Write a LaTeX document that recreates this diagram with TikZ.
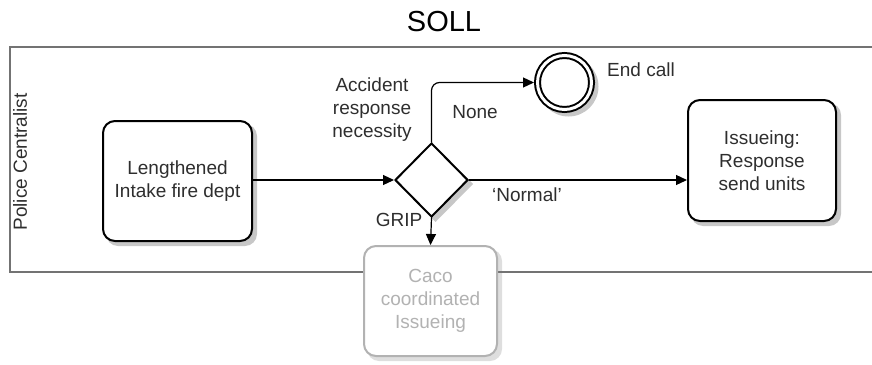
\documentclass[tikz,border=0pt]{standalone}
\usepackage{fontspec}
\setmainfont{Liberation Sans}
\usetikzlibrary{shapes.geometric,arrows.meta,backgrounds}
\begin{document}
\begin{tikzpicture}[x=1pt,y=-1pt,
  every node/.style={font=\fontsize{19}{23}\selectfont, text=black!82},
  lane/.style={draw=black!55, line width=1.8pt},
  task/.style={draw=black, line width=2pt, rounded corners=12pt, fill=white,
    align=center, inner sep=0pt},
  faded/.style={draw=black!30, text=black!30, line width=2pt, rounded corners=12pt,
    fill=white, align=center, inner sep=0pt},
  gateway/.style={diamond, draw=black, line width=2pt, fill=white, inner sep=0pt},
  endevent/.style={circle, draw=black, fill=white, line width=2pt, double=white,
    double distance=3pt, inner sep=0pt, minimum size=54pt, outer sep=3.5pt},
  flow/.style={draw=black, line width=1.2pt, -{Triangle[length=11pt,width=10pt]}},
  lbl/.style={align=center, inner sep=0pt},
  shadowfill/.style={fill=black!#1, draw=none}
]
\useasboundingbox (0,0) rectangle (872,364);

% title
\node[font=\fontsize{29}{34}\selectfont, text=black] (title) at (444,22) {SOLL};

% pool lane
\draw[lane] (885,47) -- (10,47) -- (10,272) -- (885,272);
\node[rotate=90, lbl] (lanename) at (20,162) {Police Centralist};

% activities and events
\node[task, minimum width=149pt, minimum height=120pt] (intake) at (177.5,181)
  {Lengthened\\Intake fire dept};
\node[gateway, minimum width=73pt, minimum height=74pt] (gw) at (431.5,180) {};
\node[endevent] (endcall) at (564.5,82.5) {};
\node[task, minimum width=148pt, minimum height=121pt] (issue) at (762,160.5)
  {Issueing:\\Response\\send units};
\node[faded, minimum width=133pt, minimum height=110pt] (caco) at (430.5,301)
  {Caco\\coordinated\\Issueing};

% drop shadows, offset down and to the right, behind the shapes
\begin{scope}[on background layer]
  \fill[shadowfill=22, rounded corners=12pt]
    ([shift={(4,4)}]intake.south west) rectangle ([shift={(4,4)}]intake.north east);
  \fill[shadowfill=22, rounded corners=12pt]
    ([shift={(4,4)}]issue.south west) rectangle ([shift={(4,4)}]issue.north east);
  \fill[shadowfill=13, rounded corners=12pt]
    ([shift={(4,4)}]caco.south west) rectangle ([shift={(4,4)}]caco.north east);
  \fill[shadowfill=22] ([shift={(4,4)}]gw.north) -- ([shift={(4,4)}]gw.east)
    -- ([shift={(4,4)}]gw.south) -- ([shift={(4,4)}]gw.west) -- cycle;
  \fill[shadowfill=22] ([shift={(4,4)}]endcall.center) circle[radius=30pt];
\end{scope}

% sequence flows
\draw[flow] (intake.east |- gw.west) -- (gw.west);
\draw[flow, rounded corners=8pt] (gw.north) |- (endcall.west);
\draw[flow] (gw.east) -- (gw.east -| issue.west);
\draw[flow] (gw.south) -- (caco.north);

% labels
\node[lbl] (question) at (372,110) {Accident\\response\\necessity};
\node[lbl] (none) at (475,112) {None};
\node[lbl] (normal) at (527,195) {‘Normal’};
\node[lbl] (grip) at (399,220) {GRIP};
\node[lbl] (endlabel) at (641,70) {End call};
\end{tikzpicture}
\end{document}
